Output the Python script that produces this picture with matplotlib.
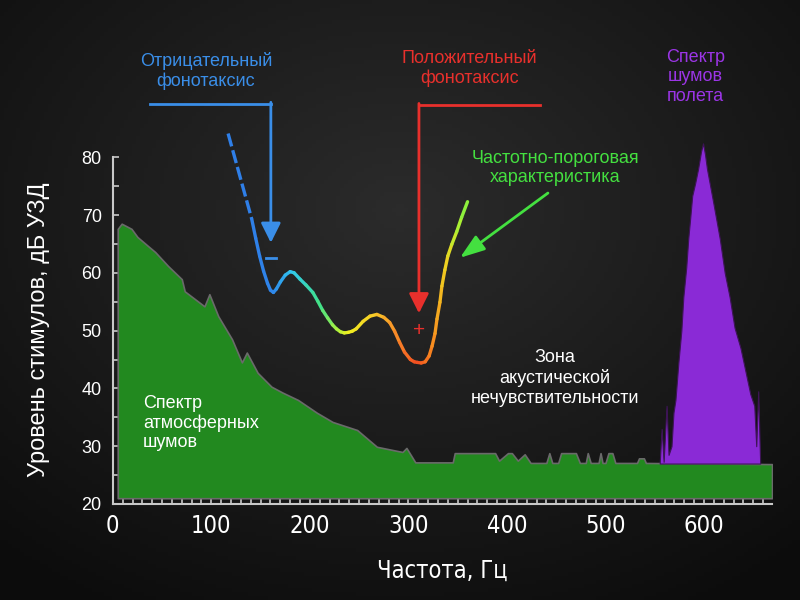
import numpy as np
import matplotlib.pyplot as plt
from matplotlib.collections import LineCollection
from matplotlib.colors import LinearSegmentedColormap

plt.rcParams['font.family'] = ['Liberation Sans', 'DejaVu Sans']

# atmospheric noise spectrum (Hz, dB)
atm_freq = [5, 9, 19, 25, 36, 43, 56, 70, 73, 93, 98, 107, 121, 131, 136, 147, 161, 172,
            188, 207, 223, 248, 268, 294, 298, 307, 345, 347, 388, 392, 401, 405, 411,
            418, 424, 440, 443, 446, 452, 455, 470, 474, 480, 482, 485, 493, 495, 497,
            500, 503, 507, 510, 532, 534, 539, 541, 669]
atm_db = [67.6, 68.5, 67.6, 66.2, 64.6, 63.6, 61.2, 58.9, 56.8, 54.2, 56.3, 52.5, 48.5,
          44.5, 46.2, 42.7, 40.3, 39.3, 38.0, 35.8, 34.2, 32.8, 29.9, 29.0, 29.7, 27.2,
          27.2, 28.8, 28.8, 27.5, 28.8, 28.8, 27.5, 28.6, 27.1, 27.1, 28.8, 27.1, 27.1,
          28.8, 28.8, 27.1, 27.1, 28.8, 27.1, 27.1, 28.8, 27.1, 27.1, 28.8, 28.8, 27.1,
          27.1, 27.9, 27.9, 27.1, 26.9]

# flight noise spectrum
flight_freq = [555, 557, 559, 562, 564, 567, 569, 571, 574, 577, 579, 582, 584, 586, 588,
               591, 594, 597, 599, 601, 603, 609, 616, 621, 626, 631, 637, 642, 647, 651,
               653, 655, 657]
flight_db = [27.0, 33.0, 27.3, 37.0, 28.5, 30.0, 35.8, 38.0, 44.5, 50.0, 55.8, 61.0, 65.9,
             69.5, 73.3, 75.5, 78.0, 81.0, 82.4, 80.5, 78.0, 72.5, 65.9, 60.0, 55.8, 50.5,
             47.0, 43.0, 39.0, 37.0, 30.0, 39.5, 27.0]

# frequency-threshold curve
thr_freq = [141, 145, 149, 153, 157, 160, 163, 166, 170, 175, 180, 184, 190, 196, 203, 208,
            213, 218, 223, 227, 231, 235, 239, 243, 247, 254, 261, 268, 275, 281, 286, 291,
            296, 302, 306, 309, 313, 317, 321, 324, 327, 329, 332, 334, 337, 340, 344, 349,
            354, 360]
thr_db = [69.3, 66.0, 62.9, 60.3, 58.2, 57.0, 56.6, 57.2, 58.4, 59.6, 60.2, 60.0, 58.9, 57.9,
          56.6, 55.1, 53.5, 52.2, 51.0, 50.3, 49.8, 49.6, 49.7, 49.9, 50.3, 51.6, 52.5, 52.8,
          52.3, 51.4, 49.9, 48.0, 46.3, 45.0, 44.6, 44.5, 44.4, 44.6, 45.6, 47.3, 49.5, 52.0,
          54.9, 57.7, 60.5, 62.9, 64.9, 67.1, 69.6, 72.3]
thr_dash_freq = [117, 141]
thr_dash_db = [84.1, 69.3]

xticks = [0, 100, 200, 300, 400, 500, 600]
yticks = [20, 30, 40, 50, 60, 70, 80]

fig = plt.figure(figsize=(8, 6), dpi=100)
fig.patch.set_facecolor('#111111')

# dark background
bg = fig.add_axes([0, 0, 1, 1])
gx, gy = np.meshgrid(np.linspace(0, 1, 200), np.linspace(0, 1, 150))
r = np.sqrt(((gx - 0.5) / 0.75) ** 2 + ((gy - 0.35) / 0.75) ** 2)
shade = 0.17 - 0.12 * np.clip(r, 0, 1)
bg.imshow(np.dstack([shade] * 3), extent=[0, 1, 0, 1], aspect='auto')
bg.axis('off')

ax = fig.add_axes([0.141, 0.16, 0.824, 0.84])
ax.set_facecolor('none')
ax.set_xlim(0, 669)
ax.set_ylim(20, 107.2)

ax.fill_between(atm_freq, atm_db, 21.0, color='#22891f', edgecolor='#6a6a6a', lw=1.2, zorder=2)
ax.fill_between(flight_freq, flight_db, 27.0, color='#8a2ad6',
                edgecolor='#3d1456', lw=0.8, zorder=3)

cmap = LinearSegmentedColormap.from_list('thr', [
    (0.0, '#2f7fe8'), (0.10, '#2f86ea'), (0.187, '#30c8f0'), (0.315, '#40e08a'),
    (0.397, '#a8f040'), (0.452, '#f0f020'), (0.580, '#f8c828'), (0.689, '#f88028'),
    (0.772, '#f04a20'), (0.840, '#f88a20'), (0.900, '#f0d020'), (0.954, '#b8f030'),
    (1.0, '#80f040')])
pts = np.column_stack([thr_freq, thr_db])
segs = np.stack([pts[:-1], pts[1:]], axis=1)
mids = (np.array(thr_freq[:-1]) + np.array(thr_freq[1:])) / 2
lc = LineCollection(segs, colors=cmap((mids - 141) / (360 - 141)), linewidths=2.4,
                    capstyle='round', joinstyle='round', zorder=4)
ax.add_collection(lc)
ax.plot(thr_dash_freq, thr_dash_db, color='#2f7fe8', lw=2.4, ls=(0, (4, 1.2)), zorder=4)

# negative phonotaxis arrow
blue = '#3a8ee8'
ax.plot([37.6, 160.4], [89.2, 89.2], color=blue, lw=2, zorder=5)
ax.annotate('', xy=(160.4, 65.2), xytext=(160.4, 89.5),
            arrowprops=dict(arrowstyle='-|>,head_length=0.8,head_width=0.4', color=blue,
                            lw=2, mutation_scale=15, shrinkA=0, shrinkB=0), zorder=5)
ax.plot([155, 166], [62.6, 62.6], color=blue, lw=2, zorder=5)
ax.text(94.4, 94.9, 'Отрицательный\nфонотаксис', color=blue, fontsize=13, ha='center',
        va='center')

# positive phonotaxis arrow
red = '#e8302c'
ax.plot([433.5, 310.7], [89.0, 89.0], color=red, lw=2, zorder=5)
ax.annotate('', xy=(310.7, 53.0), xytext=(310.7, 89.3),
            arrowprops=dict(arrowstyle='-|>,head_length=0.8,head_width=0.4', color=red,
                            lw=2, mutation_scale=15, shrinkA=0, shrinkB=0), zorder=5)
ax.text(310.7, 50.1, '+', color=red, fontsize=15, ha='center', va='center')
ax.text(362, 95.4, 'Положительный\nфонотаксис', color=red, fontsize=13, ha='center',
        va='center')

# threshold label
green = '#44e040'
ax.annotate('', xy=(352.3, 62.6), xytext=(441.6, 73.8),
            arrowprops=dict(arrowstyle='-|>,head_length=1.0,head_width=0.35', color=green,
                            lw=2, mutation_scale=15, shrinkA=0, shrinkB=0), zorder=5)
ax.text(449, 78.1, 'Частотно-пороговая\nхарактеристика', color=green, fontsize=13,
        ha='center', va='center')

ax.text(591, 93.9, 'Спектр\nшумов\nполета', color='#9b35e6', fontsize=13, ha='center',
        va='center')
ax.text(30.5, 34.0, 'Спектр\nатмосферных\nшумов', color='white', fontsize=13, ha='left',
        va='center', zorder=6)
ax.text(449, 41.8, 'Зона\nакустической\nнечувствительности', color='white', fontsize=13,
        ha='center', va='center')

for s in ['top', 'right']:
    ax.spines[s].set_visible(False)
for s in ['left', 'bottom']:
    ax.spines[s].set_color('#c8c8c8')
    ax.spines[s].set_linewidth(1.5)
ax.spines['left'].set_bounds(20, 80)

ax.set_xticks(xticks)
ax.set_xticks(np.arange(0, 670, 10), minor=True)
ax.set_yticks(yticks)
ax.set_yticks(np.arange(25, 80, 10), minor=True)
ax.tick_params(which='both', direction='in', color='#c8c8c8', length=4, width=1.2)
ax.tick_params(axis='y', labelsize=13, labelcolor='white', pad=8)
ax.tick_params(axis='x', labelsize=17, labelcolor='white', pad=7)
for lab in ax.get_xticklabels():
    lab.set_family('DejaVu Sans')
    lab.set_stretch('condensed')

ax.set_xlabel('Частота, Гц', color='white', fontsize=17, labelpad=15,
              family='DejaVu Sans', fontstretch='condensed')
ax.set_ylabel('Уровень стимулов, дБ УЗД', color='white', fontsize=17)
ax.yaxis.set_label_coords(-0.095, 0.345)

fig.savefig('out.png', dpi=100, facecolor=fig.get_facecolor())
